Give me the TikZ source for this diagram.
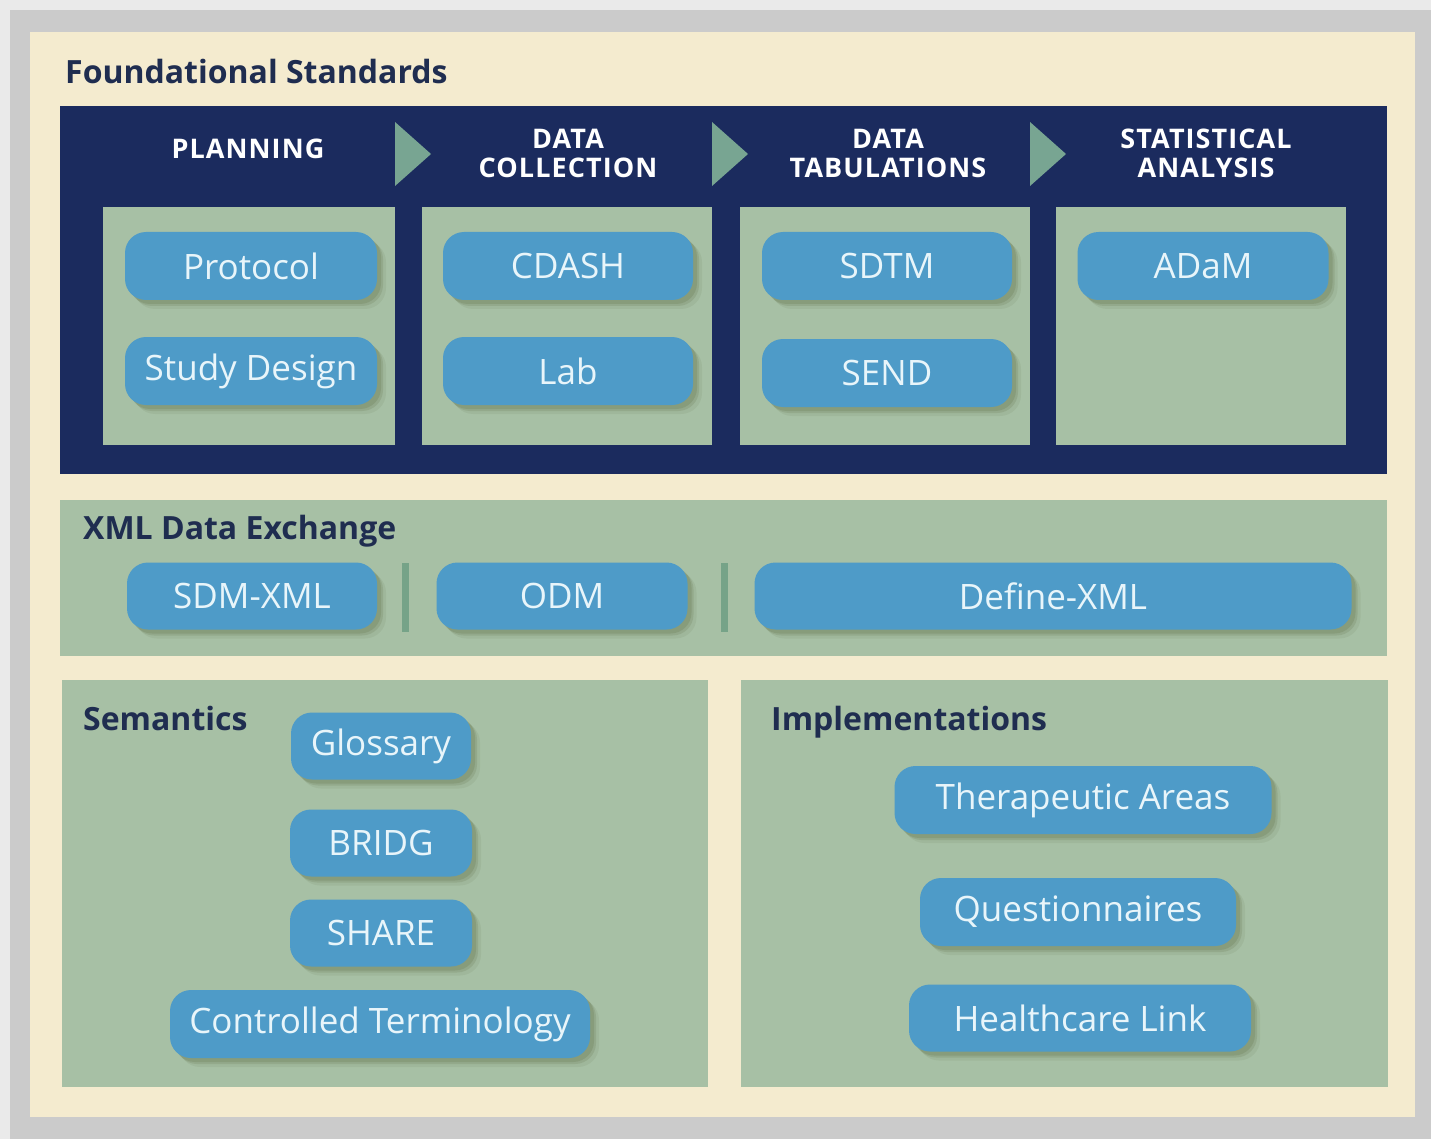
\documentclass[tikz,border=0pt]{standalone}
\usepackage{fontspec}
\setmainfont{Open Sans}
\usetikzlibrary{shadows}
\definecolor{outerlight}{HTML}{EAEAEA}
\definecolor{framegray}{HTML}{CBCBCB}
\definecolor{cream}{HTML}{F4EBCF}
\definecolor{navy}{HTML}{1B2B5E}
\definecolor{panelgreen}{HTML}{A7C0A5}
\definecolor{pillblue}{HTML}{4E9BC8}
\definecolor{pilltext}{HTML}{E8F5FA}
\definecolor{titletext}{HTML}{1F2D50}
\definecolor{tri}{HTML}{78A592}
\definecolor{sep}{HTML}{76A388}
\definecolor{shcol}{HTML}{5F6E45}
\tikzset{
  pill/.style={rounded corners=21pt, fill=pillblue, text=pilltext,
    minimum height=68pt, inner sep=0pt,
    font=\fontsize{35}{40}\selectfont,
    drop shadow={shadow xshift=9pt, shadow yshift=-9pt, opacity=0.10, fill=shcol},
    drop shadow={shadow xshift=6pt, shadow yshift=-6pt, opacity=0.18, fill=shcol},
    drop shadow={shadow xshift=4pt, shadow yshift=-4pt, opacity=0.22, fill=shcol}},
  header/.style={text=white, align=center, inner sep=0pt,
    font=\fontsize{27}{29}\selectfont\bfseries\addfontfeatures{LetterSpace=4}},
  sectitle/.style={text=titletext, inner sep=0pt, anchor=base west,
    font=\fontsize{32}{38}\selectfont\bfseries},
  arrowtri/.style={fill=tri},
}
\begin{document}
\begin{tikzpicture}[x=1pt,y=-1pt]
\useasboundingbox (0,0) rectangle (1431,1139);
% frame
\fill[outerlight] (0,0) rectangle (1431,1139);
\fill[framegray] (10,10) rectangle (1431,1139);
\fill[cream] (30,32) rectangle (1415,1117);
% title
\node[sectitle] (ftitle) at (65,84) {Foundational Standards};
% navy block
\fill[navy] (60,106) rectangle (1387,474);
% green panels
\fill[panelgreen] (103,207) rectangle (395,445);
\fill[panelgreen] (422,207) rectangle (712,445);
\fill[panelgreen] (740,207) rectangle (1030,445);
\fill[panelgreen] (1056,207) rectangle (1346,445);
% triangles
\fill[arrowtri] (395,122) -- (431,154) -- (395,186) -- cycle;
\fill[arrowtri] (712,122) -- (748,154) -- (712,186) -- cycle;
\fill[arrowtri] (1030,122) -- (1066,154) -- (1030,186) -- cycle;
% headers
\node[header] (hplan) at (248,149) {PLANNING};
\node[header] (hcoll) at (568,153) {DATA\\COLLECTION};
\node[header] (htab) at (888,153) {DATA\\TABULATIONS};
\node[header] (hstat) at (1206,153) {STATISTICAL\\ANALYSIS};
% pills top
\node[pill, minimum width=252pt] (protocol) at (251,266) {Protocol};
\node[pill, minimum width=252pt] (design) at (251,371) {Study Design};
\node[pill, minimum width=250pt] (cdash) at (568,266) {CDASH};
\node[pill, minimum width=250pt] (lab) at (568,371) {Lab};
\node[pill, minimum width=250pt] (sdtm) at (887,266) {SDTM};
\node[pill, minimum width=250pt] (send) at (887,373) {SEND};
\node[pill, minimum width=251pt] (adam) at (1203,266) {ADaM};
% XML panel
\fill[panelgreen] (60,500) rectangle (1387,656);
\node[sectitle] (xtitle) at (83,539) {XML Data Exchange};
\fill[sep] (402,563) rectangle (409,632);
\fill[sep] (721,563) rectangle (728,632);
\node[pill, minimum width=250pt, minimum height=67pt] (sdm) at (252,596) {SDM-XML};
\node[pill, minimum width=251pt, minimum height=67pt] (odm) at (562,596) {ODM};
\node[pill, minimum width=597pt, minimum height=67pt] (define) at (1053,596) {Define-XML};
% Semantics panel
\fill[panelgreen] (62,680) rectangle (708,1087);
\node[sectitle] (stitle) at (83,730) {Semantics};
\node[pill, minimum width=180pt, minimum height=67pt] (glossary) at (381,746) {Glossary};
\node[pill, minimum width=182pt, minimum height=67pt] (bridg) at (381,843) {BRIDG};
\node[pill, minimum width=182pt, minimum height=67pt] (share) at (381,933) {SHARE};
\node[pill, minimum width=420pt, minimum height=68pt] (ct) at (380,1024) {Controlled Terminology};
% Implementations panel
\fill[panelgreen] (741,680) rectangle (1388,1087);
\node[sectitle] (ititle) at (771,730) {Implementations};
\node[pill, minimum width=377pt, minimum height=68pt] (ta) at (1083,800) {Therapeutic Areas};
\node[pill, minimum width=316pt, minimum height=68pt] (quest) at (1078,912) {Questionnaires};
\node[pill, minimum width=342pt, minimum height=67pt] (hl) at (1080,1018) {Healthcare Link};
\end{tikzpicture}
\end{document}
